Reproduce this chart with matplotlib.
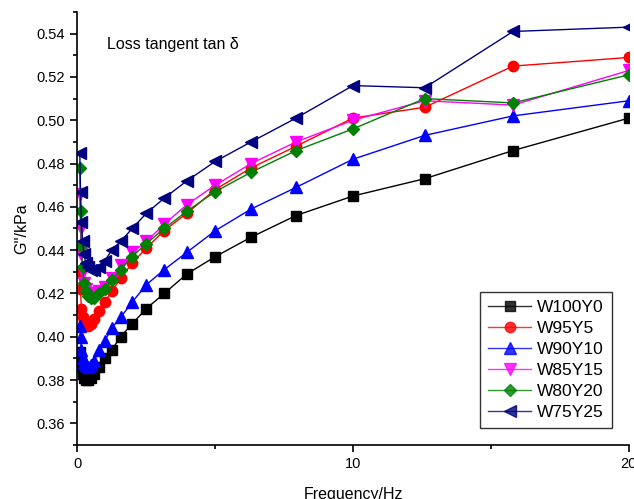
import matplotlib
matplotlib.use("Agg")
import matplotlib.pyplot as plt
from matplotlib.ticker import MultipleLocator

plt.rcParams['font.family'] = ['Liberation Sans', 'DejaVu Sans']

# frequency sweep points (Hz)
freq = [0.1, 0.126, 0.158, 0.2, 0.251, 0.316, 0.398, 0.501, 0.631, 0.794,
        1.0, 1.26, 1.58, 2.0, 2.51, 3.16, 3.98, 5.01, 6.31, 7.94,
        10.0, 12.6, 15.8, 20.0]

w100y0 = [0.393, 0.389, 0.386, 0.383, 0.381, 0.380, 0.380, 0.381, 0.383, 0.386,
          0.390, 0.394, 0.400, 0.406, 0.413, 0.420, 0.429, 0.437, 0.446, 0.456,
          0.465, 0.473, 0.486, 0.501]
w95y5 = [0.430, 0.422, 0.413, 0.409, 0.407, 0.406, 0.405, 0.406, 0.408, 0.412,
         0.416, 0.421, 0.427, 0.434, 0.441, 0.449, 0.457, 0.468, 0.478, 0.488,
         0.501, 0.506, 0.525, 0.529]
w90y10 = [0.405, 0.400, 0.394, 0.390, 0.388, 0.387, 0.386, 0.387, 0.389, 0.394,
          0.398, 0.404, 0.409, 0.416, 0.424, 0.431, 0.439, 0.449, 0.459, 0.469,
          0.482, 0.493, 0.502, 0.509]
w85y15 = [0.466, 0.450, 0.438, 0.430, 0.425, 0.422, 0.420, 0.419, 0.420, 0.421,
          0.423, 0.427, 0.433, 0.439, 0.444, 0.452, 0.461, 0.470, 0.480, 0.490,
          0.500, 0.509, 0.507, 0.523]
w80y20 = [0.478, 0.458, 0.442, 0.432, 0.425, 0.421, 0.419, 0.418, 0.418, 0.420,
          0.422, 0.426, 0.431, 0.437, 0.443, 0.450, 0.458, 0.467, 0.476, 0.486,
          0.496, 0.510, 0.508, 0.521]
w75y25 = [0.485, 0.467, 0.453, 0.444, 0.438, 0.434, 0.432, 0.431, 0.431, 0.432,
          0.435, 0.440, 0.444, 0.450, 0.457, 0.464, 0.472, 0.481, 0.490, 0.501,
          0.516, 0.515, 0.541, 0.543]

series = [("W100Y0", w100y0, "black", "s", 6.5),
          ("W95Y5", w95y5, "red", "o", 7.5),
          ("W90Y10", w90y10, "blue", "^", 8),
          ("W85Y15", w85y15, "magenta", "v", 8),
          ("W80Y20", w80y20, "green", "D", 6.5),
          ("W75Y25", w75y25, "navy", "<", 8)]

fig = plt.figure(figsize=(6.34, 4.99), dpi=100)
ax = fig.add_axes([0.1215, 0.1082, 0.8705, 0.8678])

for name, vals, col, mk, ms in series:
    ax.plot(freq, vals, color=col, marker=mk, markersize=ms, linewidth=1, label=name)

ax.set_xlim(0, 20)
ax.set_ylim(0.35, 0.55)
ax.xaxis.set_major_locator(MultipleLocator(10))
ax.xaxis.set_minor_locator(MultipleLocator(5))
ax.yaxis.set_minor_locator(MultipleLocator(0.01))
ax.tick_params(which='major', direction='out', length=5, width=1.2, labelsize=10.5)
ax.tick_params(which='minor', direction='out', length=3, width=1.2)
ax.set_yticks([0.36, 0.38, 0.40, 0.42, 0.44, 0.46, 0.48, 0.50, 0.52, 0.54])
ax.set_yticklabels(["0.36", "0.38", "0.40", "0.42", "0.44", "0.46", "0.48", "0.50", "0.52", "0.54"])

for s in ['top', 'right']:
    ax.spines[s].set_visible(False)
for s in ['left', 'bottom']:
    ax.spines[s].set_linewidth(1.2)

ax.set_xlabel("Frequency/Hz", fontsize=11.5, labelpad=12)
ax.set_ylabel("G''/kPa", fontsize=11.5, labelpad=5)
ax.text(0.055, 0.915, "Loss tangent tan δ", transform=ax.transAxes, fontsize=11.5)

leg = ax.legend(loc='lower right', bbox_to_anchor=(0.985, 0.02), fontsize=12.5,
                frameon=True, fancybox=False, edgecolor='black', borderpad=0.45,
                handlelength=2.5, labelspacing=0.33, handletextpad=0.35)
leg.get_frame().set_linewidth(1)
for line in leg.get_lines():
    line.set_alpha(0.8)

fig.savefig("out.png", dpi=100)
